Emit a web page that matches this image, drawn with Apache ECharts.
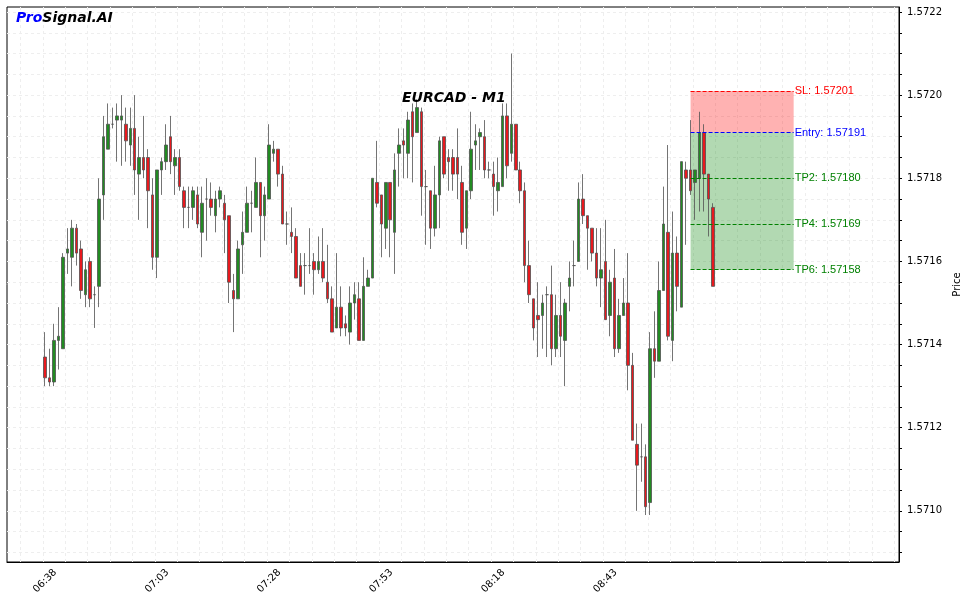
<!DOCTYPE html>
<html><head><meta charset="utf-8">
<script src="https://cdn.jsdelivr.net/npm/echarts@6/dist/echarts.min.js"></script>
<style>html,body{margin:0;padding:0;background:#fff}#c{width:963px;height:603px}</style>
</head><body><div id="c"></div>
<script>
// candles: [open, close, low, high], one per minute starting 06:38
const candles = [
[1.57137,1.57132,1.57130,1.57143],[1.57132,1.57131,1.57130,1.57139],[1.57131,1.57141,1.57130,1.57145],[1.57141,1.57142,1.57134,1.57149],
[1.57139,1.57161,1.57139,1.57162],[1.57162,1.57163,1.57157,1.57168],[1.57161,1.57168,1.57154,1.57170],[1.57168,1.57162,1.57159,1.57169],
[1.57163,1.57153,1.57151,1.57165],[1.57152,1.57158,1.57149,1.57160],[1.57160,1.57151,1.57149,1.57161],[1.57152,1.57152,1.57144,1.57154],
[1.57154,1.57175,1.57149,1.57180],[1.57176,1.57190,1.57170,1.57195],[1.57187,1.57193,1.57187,1.57198],[1.57193,1.57193,1.57192,1.57197],
[1.57194,1.57195,1.57184,1.57198],[1.57194,1.57195,1.57183,1.57200],[1.57193,1.57189,1.57184,1.57197],[1.57188,1.57192,1.57183,1.57197],
[1.57192,1.57182,1.57176,1.57200],[1.57181,1.57185,1.57170,1.57190],[1.57185,1.57182,1.57180,1.57195],[1.57185,1.57177,1.57168,1.57187],
[1.57176,1.57161,1.57158,1.57180],[1.57161,1.57182,1.57156,1.57182],[1.57182,1.57184,1.57176,1.57185],[1.57184,1.57188,1.57182,1.57193],
[1.57190,1.57184,1.57181,1.57195],[1.57183,1.57185,1.57176,1.57187],[1.57185,1.57178,1.57177,1.57187],[1.57177,1.57173,1.57168,1.57178],
[1.57173,1.57173,1.57168,1.57178],[1.57173,1.57177,1.57170,1.57178],[1.57176,1.57169,1.57168,1.57178],[1.57167,1.57174,1.57161,1.57178],
[1.57175,1.57175,1.57165,1.57180],[1.57175,1.57173,1.57171,1.57179],[1.57171,1.57175,1.57167,1.57177],[1.57175,1.57177,1.57173,1.57178],
[1.57174,1.57170,1.57162,1.57176],[1.57171,1.57155,1.57150,1.57171],[1.57153,1.57151,1.57143,1.57157],[1.57151,1.57163,1.57151,1.57165],
[1.57164,1.57167,1.57157,1.57172],[1.57167,1.57174,1.57167,1.57178],[1.57174,1.57174,1.57167,1.57177],[1.57173,1.57179,1.57173,1.57185],
[1.57179,1.57171,1.57161,1.57179],[1.57171,1.57176,1.57165,1.57178],[1.57175,1.57188,1.57175,1.57193],[1.57186,1.57187,1.57184,1.57189],
[1.57187,1.57181,1.57178,1.57187],[1.57181,1.57169,1.57169,1.57183],[1.57169,1.57169,1.57164,1.57172],[1.57167,1.57166,1.57162,1.57173],
[1.57166,1.57156,1.57156,1.57168],[1.57159,1.57154,1.57154,1.57162],[1.57159,1.57159,1.57152,1.57162],[1.57159,1.57159,1.57157,1.57168],
[1.57160,1.57158,1.57152,1.57162],[1.57158,1.57160,1.57157,1.57166],[1.57160,1.57156,1.57155,1.57168],[1.57155,1.57151,1.57150,1.57164],
[1.57151,1.57143,1.57143,1.57154],[1.57144,1.57149,1.57144,1.57162],[1.57149,1.57144,1.57142,1.57154],[1.57145,1.57144,1.57142,1.57147],
[1.57143,1.57150,1.57140,1.57154],[1.57150,1.57152,1.57146,1.57155],[1.57151,1.57141,1.57141,1.57155],[1.57141,1.57154,1.57141,1.57161],
[1.57154,1.57156,1.57154,1.57158],[1.57156,1.57180,1.57156,1.57180],[1.57179,1.57174,1.57173,1.57189],[1.57176,1.57169,1.57161,1.57176],
[1.57168,1.57179,1.57163,1.57179],[1.57179,1.57170,1.57161,1.57179],[1.57167,1.57182,1.57157,1.57186],[1.57186,1.57188,1.57178,1.57192],
[1.57189,1.57188,1.57180,1.57192],[1.57186,1.57194,1.57180,1.57196],[1.57196,1.57190,1.57179,1.57198],[1.57191,1.57197,1.57191,1.57199],
[1.57196,1.57178,1.57171,1.57197],[1.57178,1.57178,1.57164,1.57182],[1.57177,1.57168,1.57163,1.57177],[1.57168,1.57176,1.57166,1.57183],
[1.57176,1.57189,1.57168,1.57190],[1.57190,1.57181,1.57180,1.57190],[1.57185,1.57184,1.57177,1.57187],[1.57185,1.57181,1.57177,1.57187],
[1.57185,1.57181,1.57175,1.57192],[1.57179,1.57167,1.57164,1.57183],[1.57168,1.57177,1.57163,1.57177],[1.57177,1.57187,1.57175,1.57196],
[1.57188,1.57189,1.57182,1.57193],[1.57190,1.57191,1.57182,1.57192],[1.57190,1.57182,1.57180,1.57194],[1.57182,1.57182,1.57180,1.57184],
[1.57181,1.57178,1.57171,1.57184],[1.57177,1.57179,1.57172,1.57185],[1.57178,1.57195,1.57178,1.57198],[1.57195,1.57183,1.57180,1.57198],
[1.57186,1.57193,1.57184,1.57210],[1.57193,1.57182,1.57182,1.57193],[1.57182,1.57177,1.57174,1.57184],[1.57177,1.57159,1.57155,1.57179],
[1.57159,1.57152,1.57150,1.57165],[1.57151,1.57144,1.57141,1.57151],[1.57147,1.57146,1.57137,1.57155],[1.57147,1.57150,1.57139,1.57152],
[1.57152,1.57152,1.57137,1.57154],[1.57152,1.57139,1.57135,1.57159],[1.57139,1.57147,1.57137,1.57152],[1.57147,1.57142,1.57137,1.57155],
[1.57141,1.57150,1.57130,1.57151],[1.57154,1.57156,1.57148,1.57160],[1.57159,1.57159,1.57154,1.57165],[1.57160,1.57175,1.57160,1.57179],
[1.57175,1.57171,1.57169,1.57181],[1.57171,1.57168,1.57158,1.57171],[1.57168,1.57162,1.57160,1.57168],[1.57162,1.57156,1.57154,1.57168],
[1.57156,1.57158,1.57149,1.57168],[1.57160,1.57146,1.57146,1.57170],[1.57147,1.57155,1.57142,1.57158],[1.57156,1.57139,1.57137,1.57163],
[1.57139,1.57147,1.57138,1.57151],[1.57147,1.57150,1.57147,1.57156],[1.57150,1.57135,1.57129,1.57162],[1.57135,1.57117,1.57117,1.57138],
[1.57116,1.57111,1.57100,1.57121],[1.57113,1.57113,1.57107,1.57121],[1.57113,1.57101,1.57099,1.57116],[1.57102,1.57139,1.57099,1.57143],
[1.57139,1.57136,1.57132,1.57148],[1.57136,1.57153,1.57136,1.57160],[1.57153,1.57169,1.57153,1.57178],[1.57167,1.57142,1.57141,1.57188],
[1.57141,1.57162,1.57136,1.57172],[1.57162,1.57154,1.57148,1.57166],[1.57149,1.57184,1.57149,1.57184],[1.57182,1.57180,1.57164,1.57184],
[1.57182,1.57177,1.57176,1.57194],[1.57179,1.57182,1.57170,1.57182],[1.57180,1.57191,1.57172,1.57196],[1.57191,1.57181,1.57172,1.57193],
[1.57181,1.57175,1.57166,1.57181],[1.57173,1.57154,1.57154,1.57174]
];
const startMinute = 6*60+38;
const padBefore = 8, padAfter = 41;
const tickLabels = ['06:38','07:03','07:28','07:53','08:18','08:43'];
const levelNames = ['SL','Entry','TP2','TP4','TP6'];
const levelValues = [1.57201,1.57191,1.57180,1.57169,1.57158];
const levelColors = ['#ff0000','#0000ff','#008000','#008000','#008000'];
const zoneStart = 144, zoneEnd = 167;
const yLabels = [1.5710,1.5712,1.5714,1.5716,1.5718,1.5720,1.5722];
const yMin = 1.570877, yMax = 1.572212;

const fmt = m => { m=((m%1440)+1440)%1440; return String(Math.floor(m/60)).padStart(2,'0')+':'+String(m%60).padStart(2,'0'); };
const cats = [], data = [];
for (let k=-padBefore; k<candles.length+padAfter; k++) {
  cats.push(fmt(startMinute+k));
  data.push(k>=0 && k<candles.length ? candles[k] : '-');
}
const minorY = [];
for (let v=1.57090; v<=1.57221; v+=0.00005) minorY.push(+v.toFixed(5));
const idx = k => k+padBefore;

const markLines = levelValues.map((v,i)=>[
  {coord:[idx(zoneStart), v], lineStyle:{color:levelColors[i], type:[4,2], width:1},
   label:{show:true, position:'end', formatter: levelNames[i]+': '+v.toFixed(5), color:levelColors[i], fontSize:11, distance:1}},
  {coord:[idx(zoneEnd), v]}
]);
const textFont = {fontSize:14,fontWeight:'bold',fontStyle:'italic',fontFamily:'DejaVu Sans'};

const chart = echarts.init(document.getElementById('c'));
chart.setOption({
  animation:false,
  grid:{left:7,right:64,top:7,bottom:41,show:true,borderColor:'#000',borderWidth:1,containLabel:false,outerBoundsMode:'none'},
  title:[
    {text:'EURCAD - M1',left:397,top:86,textStyle:Object.assign({color:'#000'},textFont)},
    {text:'{a|Pro}{b|Signal.AI}',left:11,top:6,textStyle:{rich:{
      a:Object.assign({color:'#0000ff'},textFont), b:Object.assign({color:'#000'},textFont)}}}
  ],
  xAxis:{type:'category',data:cats,boundaryGap:true,
    axisLine:{lineStyle:{color:'#000'}},
    axisTick:{alignWithLabel:true,interval:(i)=>{const k=i-padBefore;return k>=0&&k%25===0&&k<=175;},lineStyle:{color:'#000'},length:4},
    axisLabel:{interval:(i)=>{const k=i-padBefore;return k>=0&&k%25===0&&k<=125;},rotate:45,align:'center',verticalAlign:'middle',margin:19,fontSize:10,color:'#000',fontFamily:'DejaVu Sans'},
    splitLine:{show:true,interval:(i)=>((i-padBefore)%5===0),lineStyle:{color:'#eee',type:[3,3]}}},
  yAxis:{type:'value',position:'right',min:yMin,max:yMax,scale:true,
    name:'Price',nameLocation:'middle',nameGap:48,nameRotate:90,nameTextStyle:{fontSize:10,color:'#000',fontFamily:'DejaVu Sans'},
    axisLine:{show:true,lineStyle:{color:'#000'}},
    axisTick:{show:true,customValues:minorY,length:3,lineStyle:{color:'#000'}},
    axisLabel:{customValues:yLabels,formatter:v=>v.toFixed(4),fontSize:10,color:'#000',fontFamily:'DejaVu Sans'},
    splitLine:{show:true,lineStyle:{color:'#eee',type:[3,3]}}},
  series:[{type:'candlestick',data:data,barWidth:3,
    itemStyle:{color:'#228B22',color0:'#E8191E',borderColor:'#505050',borderColor0:'#505050',borderWidth:0.8},
    markArea:{silent:true,data:[
      [{coord:[idx(zoneStart),levelValues[0]],itemStyle:{color:'rgba(255,0,0,0.3)'}},{coord:[idx(zoneEnd),levelValues[1]]}],
      [{coord:[idx(zoneStart),levelValues[1]],itemStyle:{color:'rgba(0,128,0,0.3)'}},{coord:[idx(zoneEnd),levelValues[4]]}]
    ]},
    markLine:{silent:true,symbol:'none',data:markLines}
  }]
});
</script></body></html>
